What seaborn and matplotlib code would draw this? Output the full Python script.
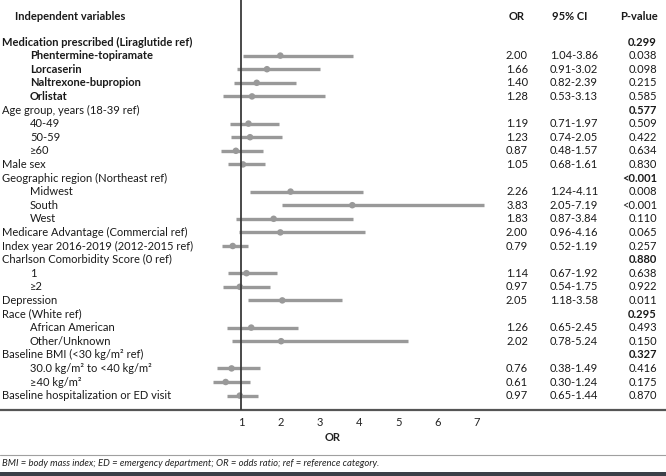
import numpy as np
import pandas as pd
import seaborn as sns
import matplotlib.pyplot as plt
from matplotlib.lines import Line2D

# rows of the forest plot, top to bottom
labels = [
    "Medication prescribed (Liraglutide ref)", "Phentermine-topiramate", "Lorcaserin",
    "Naltrexone-bupropion", "Orlistat", "Age group, years (18-39 ref)", "40-49", "50-59", "≥60",
    "Male sex", "Geographic region (Northeast ref)", "Midwest", "South", "West",
    "Medicare Advantage (Commercial ref)", "Index year 2016-2019 (2012-2015 ref)",
    "Charlson Comorbidity Score (0 ref)", "1", "≥2", "Depression", "Race (White ref)",
    "African American", "Other/Unknown", "Baseline BMI (<30 kg/m² ref)",
    "30.0 kg/m² to <40 kg/m²", "≥40 kg/m²", "Baseline hospitalization or ED visit",
]
indented = [0, 1, 1, 1, 1, 0, 1, 1, 1, 0, 0, 1, 1, 1, 0, 0, 0, 1, 1, 0, 0, 1, 1, 0, 1, 1, 0]
bold_label = [1, 1, 1, 1, 1] + [0] * 22
odds = [np.nan, 2.00, 1.66, 1.40, 1.28, np.nan, 1.19, 1.23, 0.87, 1.05, np.nan, 2.26, 3.83,
        1.83, 2.00, 0.79, np.nan, 1.14, 0.97, 2.05, np.nan, 1.26, 2.02, np.nan, 0.76, 0.61, 0.97]
ci_low = [np.nan, 1.04, 0.91, 0.82, 0.53, np.nan, 0.71, 0.74, 0.48, 0.68, np.nan, 1.24, 2.05,
          0.87, 0.96, 0.52, np.nan, 0.67, 0.54, 1.18, np.nan, 0.65, 0.78, np.nan, 0.38, 0.30, 0.65]
ci_high = [np.nan, 3.86, 3.02, 2.39, 3.13, np.nan, 1.97, 2.05, 1.57, 1.61, np.nan, 4.11, 7.19,
           3.84, 4.16, 1.19, np.nan, 1.92, 1.75, 3.58, np.nan, 2.45, 5.24, np.nan, 1.49, 1.24, 1.44]
p_values = ["0.299", "0.038", "0.098", "0.215", "0.585", "0.577", "0.509", "0.422", "0.634",
            "0.830", "<0.001", "0.008", "<0.001", "0.110", "0.065", "0.257", "0.880", "0.638",
            "0.922", "0.011", "0.295", "0.493", "0.150", "0.327", "0.416", "0.175", "0.870"]
x_ticks = [1, 2, 3, 4, 5, 6, 7]

df = pd.DataFrame({"label": labels, "indent": indented, "bold": bold_label,
                   "OR": odds, "lo": ci_low, "hi": ci_high, "p": p_values})
df["row"] = np.arange(len(df))
est = df.dropna(subset=["OR"])

sns.set_theme(style="white")
plt.rcParams["font.family"] = ["Lato", "DejaVu Sans"]

W, H = 666, 476
fig = plt.figure(figsize=(W / 100, H / 100), dpi=100)
ax = fig.add_axes([0, (H - 410) / H, 1, 410 / H])

px = 39.33  # pixels per OR unit
ax.set_xlim(1 - 241 / px, 1 + (W - 241) / px)
row_px = 13.6
ax.set_ylim((410 - 42) / row_px, -42 / row_px)

grey = "#999999"
ax.hlines(est["row"], est["lo"], est["hi"], color=grey, lw=2.4, zorder=2)
sns.scatterplot(data=est, x="OR", y="row", ax=ax, color=grey, s=22,
                edgecolor="none", zorder=3, legend=False)
ax.axvline(1, color="#3a3a3a", lw=1.3, zorder=4)

for s in ["top", "right", "left"]:
    ax.spines[s].set_visible(False)
ax.spines["bottom"].set_color("#555555")
ax.spines["bottom"].set_linewidth(1.6)
ax.set_yticks([])
ax.set_xticks(x_ticks)
ax.tick_params(axis="x", length=0, pad=5, labelsize=8, colors="#222222")
ax.set_xlabel("OR", fontsize=8, fontweight="bold", labelpad=3, color="#222222")
ax.set_ylabel("")

tr = ax.get_yaxis_transform()
txt = dict(transform=tr, va="center", fontsize=8, color="#1a1a1a")
hdr_row = -42 / row_px + 16 / row_px
ax.text(15 / W, hdr_row, "Independent variables", fontweight="bold", ha="left", **txt)
ax.text(517 / W, hdr_row, "OR", fontweight="bold", ha="center", **txt)
ax.text(570 / W, hdr_row, "95% CI", fontweight="bold", ha="center", **txt)
ax.text(658 / W, hdr_row, "P-value", fontweight="bold", ha="right", **txt)

for _, r in df.iterrows():
    x0 = (30 if r["indent"] else 2) / W
    ax.text(x0, r["row"], r["label"], ha="left",
            fontweight="bold" if r["bold"] else "normal", **txt)
    has = not np.isnan(r["OR"])
    if has:
        ax.text(517 / W, r["row"], f"{r['OR']:.2f}", ha="center", **txt)
        ax.text(550 / W, r["row"], f"{r['lo']:.2f}-{r['hi']:.2f}", ha="left", **txt)
    ax.text(657 / W, r["row"], r["p"], ha="right",
            fontweight="normal" if has else "bold", **txt)

# footnote area
fig.add_artist(Line2D([0, 1], [1 - 455 / H] * 2, color="#a0a0a0", lw=0.8))
fig.text(2 / W, 1 - 464 / H, "BMI = body mass index; ED = emergency department; "
         "OR = odds ratio; ref = reference category.",
         fontsize=6.8, style="italic", va="center", ha="left", color="#222222")
fig.add_artist(plt.Rectangle((0, 0), 1, 4 / H, transform=fig.transFigure,
                             color="#3b4048", lw=0))

fig.savefig("out.png", dpi=100)
